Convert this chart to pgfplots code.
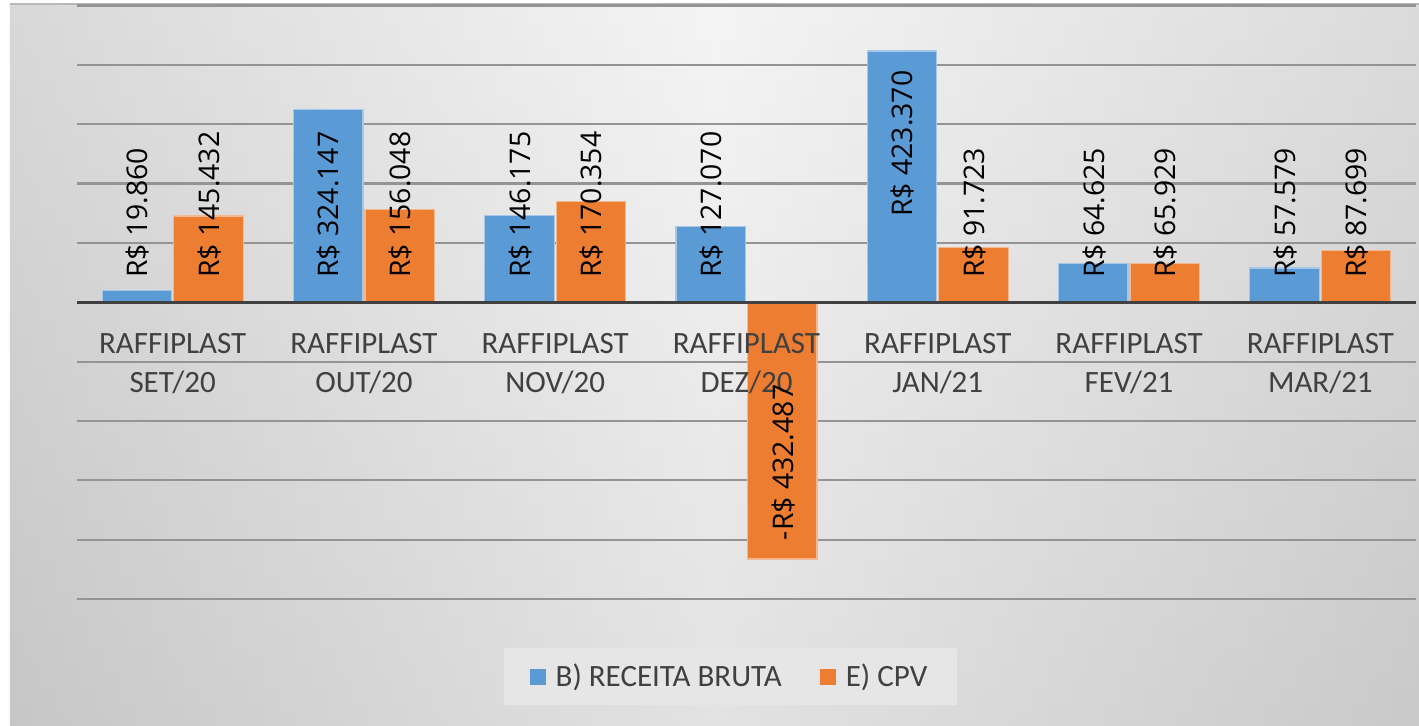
\documentclass[border=0pt]{standalone}
\usepackage{pgfplots}
\pgfplotsset{compat=1.18}
\usepackage{pgfplotstable}
\usepackage{fontspec}
\setmainfont{Carlito}
\newfontfamily\lblfont{Open Sans}
\definecolor{barblue}{HTML}{5B9BD5}
\definecolor{barorange}{HTML}{ED7D31}
\definecolor{bgedgeL}{HTML}{C4C4C4}
\definecolor{bgedgeR}{HTML}{C8C8C8}
\definecolor{bgmid}{HTML}{EFEFEF}
\definecolor{legbg}{HTML}{E6E6E6}
\definecolor{txt}{HTML}{404040}

% x = category, y = value, ly = where the label starts, label = data label
\pgfplotstableread{
x y ly label
0 19860 40473 {R\$ 19.860}
1 324147 40473 {R\$ 324.147}
2 146175 40473 {R\$ 146.175}
3 127070 40473 {R\$ 127.070}
4 423370 143344 {R\$ 423.370}
5 64625 40473 {R\$ 64.625}
6 57579 40473 {R\$ 57.579}
}\receita
\pgfplotstableread{
x y ly label
0 145432 40473 {R\$ 145.432}
1 156048 40473 {R\$ 156.048}
2 170354 40473 {R\$ 170.354}
3 -432487 -401365 {-R\$ 432.487}
4 91723 40473 {R\$ 91.723}
5 65929 40473 {R\$ 65.929}
6 87699 40473 {R\$ 87.699}
}\cpv

\begin{document}
\begin{tikzpicture}
\useasboundingbox (-38.5pt,-63pt) rectangle (671pt,299.5pt);
\shade[left color=bgedgeL, right color=bgedgeR, middle color=bgmid] (-33.5pt,-63pt) rectangle (671pt,297.5pt);
\shade[top color=white, bottom color=black!20, opacity=0.35] (-33.5pt,-63pt) rectangle (671pt,297.5pt);
\draw[black!28, line width=1pt] (-33.5pt,297.5pt) -- (671pt,297.5pt);
% horizontal gridlines every 100000 (29.675pt), drawn beneath the bars
\foreach \k in {0,1,2,3,4,6,7,8,9,10}
  \draw[black!42, line width=1.1pt] (0pt,{\k*29.675pt}) -- (669.5pt,{\k*29.675pt});
\begin{axis}[
  axis on top,
  scale only axis,
  width=669.5pt, height=296.75pt,
  xmin=-0.5, xmax=6.5,
  ymin=-500000, ymax=500000,
  enlargelimits=false,
  axis line style={draw=none},
  xtick={0,1,2,3,4,5,6},
  xticklabels={{RAFFIPLAST\\SET/20},{RAFFIPLAST\\OUT/20},{RAFFIPLAST\\NOV/20},{RAFFIPLAST\\DEZ/20},{RAFFIPLAST\\JAN/21},{RAFFIPLAST\\FEV/21},{RAFFIPLAST\\MAR/21}},
  xticklabel style={align=center, inner sep=0pt, yshift=133pt, text=txt,
    font=\fontsize{15.5}{19.5}\selectfont},
  ytick=\empty,
  major tick length=0pt,
  tick style={draw=none},
  legend columns=2,
  legend style={at={(0.48805,-0.13058)}, anchor=center, draw=none, fill=legbg,
    inner xsep=13pt, inner ysep=6pt,
    font=\fontsize{15.5}{18}\selectfont, text=txt,
    /tikz/every even column/.append style={column sep=17pt}},
  legend image code/.code={\fill[#1, draw=none] (0pt,-4pt) rectangle (8pt,4pt);
    \path[draw=none, fill=none] (11pt,0pt) circle (0.01pt);},
  lbl/.style={forget plot, draw=none, nodes near coords, point meta=explicit symbolic,
    nodes near coords style={xshift=#1, rotate=90, anchor=west,
      inner sep=0pt, text depth=0pt, text=black, font=\lblfont\fontsize{14.2}{17}\selectfont}},
]
\addlegendimage{fill=barblue}
\addlegendentry{B) RECEITA BRUTA}
\addlegendimage{fill=barorange}
\addlegendentry{E) CPV}
\addplot[forget plot, ybar, bar width=34.75pt, bar shift=-17.875pt,
  fill=barblue, draw=barblue!55!white, line width=0.6pt]
  table[x=x, y=y] {\receita};
\addplot[forget plot, ybar, bar width=34.75pt, bar shift=17.875pt,
  fill=barorange, draw=barorange!55!white, line width=0.6pt]
  table[x=x, y=y] {\cpv};
\draw[draw=black!75, line width=1.7pt] (axis cs:-0.5,0) -- (axis cs:6.5,0);
\addplot[lbl=-17.875pt] table[x=x, y=ly, meta=label] {\receita};
\addplot[lbl=17.875pt] table[x=x, y=ly, meta=label] {\cpv};
\end{axis}
\end{tikzpicture}
\end{document}
